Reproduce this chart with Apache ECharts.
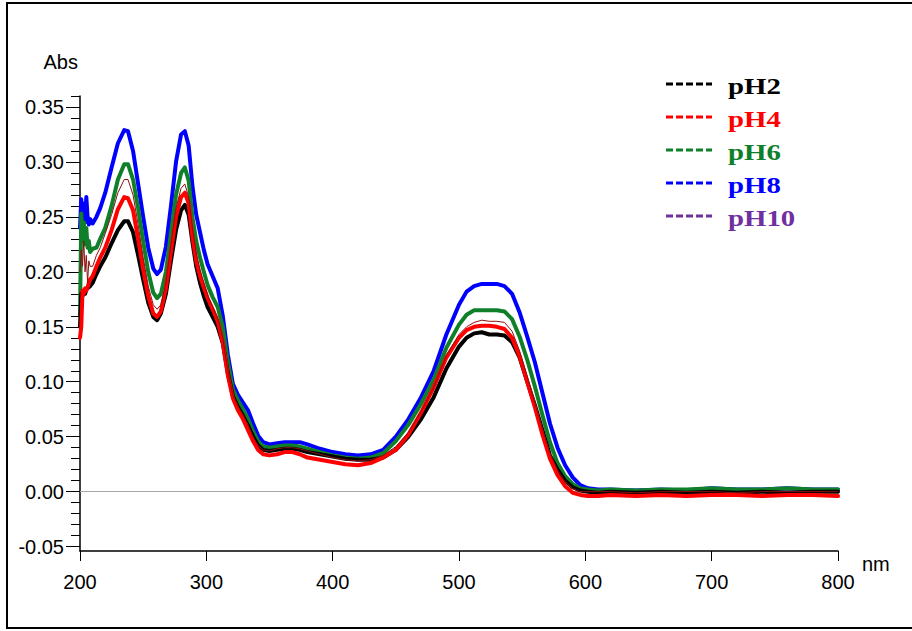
<!DOCTYPE html>
<html>
<head>
<meta charset="utf-8">
<script src="https://cdn.jsdelivr.net/npm/echarts@6.0.0/dist/echarts.min.js"></script>
<style>
html,body{margin:0;padding:0;background:#fff;}
#chart{width:912px;height:631px;}
</style>
</head>
<body>
<div id="chart"></div>
<script>
// Wavelengths (nm)
const wavelengths = [200,201,202,203,204,205,206,207,208,210,213,216,220,225,230,235,238,242,246,250,254,258,261,264,268,272,276,280,283,286,289,292,295,298,301,305,309,313,317,321,325,329,333,337,341,345,350,356,362,368,374,380,390,400,410,420,430,440,450,460,470,480,490,500,506,512,518,524,530,536,542,548,554,560,566,572,578,584,590,596,602,610,620,640,660,680,700,720,740,760,780,800];

const pH2 = [0.150,0.180,0.178,0.182,0.180,0.184,0.185,0.186,0.187,0.190,0.198,0.205,0.213,0.226,0.238,0.246,0.246,0.236,0.215,0.193,0.172,0.159,0.156,0.162,0.180,0.210,0.238,0.256,0.261,0.252,0.227,0.205,0.190,0.178,0.168,0.159,0.150,0.135,0.108,0.087,0.077,0.069,0.060,0.050,0.042,0.038,0.037,0.038,0.039,0.039,0.038,0.036,0.034,0.032,0.030,0.029,0.029,0.031,0.038,0.050,0.066,0.086,0.112,0.132,0.140,0.144,0.145,0.143,0.143,0.142,0.136,0.122,0.100,0.079,0.056,0.033,0.020,0.010,0.004,0.001,0.000,-0.001,0.000,-0.001,0.000,-0.001,0.000,-0.001,0.000,-0.001,0.000,0.000];

const pH4 = [0.140,0.150,0.183,0.180,0.185,0.183,0.186,0.190,0.193,0.196,0.205,0.213,0.222,0.238,0.257,0.268,0.267,0.256,0.230,0.202,0.178,0.162,0.159,0.164,0.185,0.218,0.250,0.268,0.272,0.262,0.232,0.210,0.196,0.186,0.176,0.166,0.155,0.136,0.106,0.085,0.074,0.066,0.056,0.046,0.038,0.034,0.033,0.034,0.036,0.036,0.034,0.031,0.029,0.027,0.025,0.024,0.026,0.031,0.038,0.052,0.072,0.095,0.122,0.140,0.147,0.150,0.151,0.151,0.150,0.148,0.140,0.123,0.100,0.077,0.052,0.030,0.015,0.005,-0.001,-0.003,-0.004,-0.004,-0.003,-0.004,-0.003,-0.004,-0.003,-0.003,-0.004,-0.003,-0.003,-0.004];

const pH6 = [0.160,0.253,0.230,0.245,0.225,0.240,0.222,0.228,0.218,0.221,0.222,0.230,0.240,0.260,0.284,0.298,0.298,0.284,0.258,0.228,0.200,0.181,0.176,0.180,0.200,0.235,0.270,0.290,0.295,0.283,0.250,0.228,0.213,0.200,0.188,0.177,0.168,0.150,0.118,0.093,0.083,0.075,0.066,0.055,0.046,0.041,0.040,0.041,0.042,0.042,0.041,0.039,0.036,0.033,0.031,0.030,0.031,0.035,0.046,0.061,0.080,0.102,0.131,0.152,0.161,0.165,0.165,0.165,0.165,0.164,0.157,0.141,0.120,0.096,0.070,0.045,0.026,0.014,0.007,0.003,0.002,0.001,0.002,0.001,0.002,0.002,0.003,0.002,0.002,0.003,0.002,0.002];

const pH8 = [0.240,0.266,0.250,0.262,0.245,0.268,0.250,0.243,0.248,0.244,0.250,0.258,0.272,0.295,0.317,0.329,0.328,0.310,0.280,0.250,0.222,0.203,0.198,0.202,0.223,0.260,0.300,0.325,0.328,0.315,0.278,0.252,0.236,0.220,0.207,0.196,0.185,0.160,0.125,0.098,0.088,0.081,0.074,0.062,0.051,0.045,0.043,0.044,0.045,0.045,0.045,0.043,0.039,0.036,0.034,0.033,0.034,0.038,0.050,0.066,0.086,0.110,0.143,0.170,0.182,0.187,0.189,0.189,0.189,0.187,0.180,0.163,0.141,0.118,0.090,0.062,0.040,0.024,0.013,0.006,0.003,0.002,0.002,0.001,0.002,0.001,0.003,0.002,0.002,0.003,0.002,0.002];

const pH10 = [0.200,0.220,0.205,0.228,0.200,0.215,0.190,0.210,0.205,0.205,0.215,0.222,0.235,0.252,0.272,0.284,0.284,0.270,0.243,0.213,0.187,0.170,0.166,0.170,0.190,0.225,0.258,0.276,0.280,0.268,0.240,0.217,0.202,0.190,0.179,0.168,0.158,0.140,0.110,0.088,0.078,0.070,0.061,0.050,0.042,0.038,0.037,0.039,0.040,0.040,0.039,0.037,0.034,0.031,0.029,0.028,0.029,0.033,0.041,0.054,0.073,0.095,0.124,0.143,0.150,0.154,0.156,0.155,0.155,0.154,0.146,0.128,0.105,0.081,0.057,0.035,0.020,0.009,0.003,0.000,0.000,0.000,0.000,-0.001,0.000,0.000,0.000,-0.001,0.000,0.000,0.000,0.000];

const seriesNames = ['pH2','pH4','pH6','pH8','pH10'];
const lineColors = {pH2:'#000000', pH4:'#ff0000', pH6:'#0f7f2a', pH8:'#0000ff', pH10:'#8b1010'};
const legendColors = {pH2:'#000000', pH4:'#ff0000', pH6:'#0f7f2a', pH8:'#0000ff', pH10:'#7030a0'};
const seriesValues = {pH2, pH4, pH6, pH8, pH10};

const yMajorTicks = [-0.05,0.00,0.05,0.10,0.15,0.20,0.25,0.30,0.35];
const yMinorTicks = [];
for (let i = -5; i <= 36; i++) { if (i % 5 !== 0) yMinorTicks.push(i / 100); }

const drawOrder = ['pH8','pH6','pH2','pH4','pH10'];

const chart = echarts.init(document.getElementById('chart'), null, {renderer:'svg'});

const series = drawOrder.map((name, idx) => {
  const s = {
    name: name,
    type: 'line',
    data: wavelengths.map((w, i) => [w, seriesValues[name][i]]),
    showSymbol: false,
    symbol: 'none',
    animation: false,
    z: 3 + idx,
    lineStyle: {color: lineColors[name], width: name === 'pH10' ? 1 : 4, join: 'round', cap: 'round'},
    itemStyle: {color: lineColors[name]}
  };
  if (idx === 0) {
    s.markLine = {
      silent: true, symbol: 'none', animation: false,
      label: {show: false},
      lineStyle: {color: '#a8a8a8', width: 1, type: 'solid'},
      data: [{yAxis: 0}],
      z: 1
    };
  }
  return s;
});

const legendGraphics = [];
seriesNames.forEach((name, i) => {
  const cy = 84 + i * 33;
  legendGraphics.push({
    type: 'line', silent: true,
    shape: {x1: 666, y1: cy, x2: 712, y2: cy},
    style: {stroke: legendColors[name], lineWidth: 3, lineDash: [7, 3]}
  });
  legendGraphics.push({
    type: 'text', silent: true,
    x: 728, y: cy + 2, scaleX: 1.2, originX: 0, originY: 0,
    style: {text: name, fill: legendColors[name], font: 'bold 24px "Liberation Serif", "DejaVu Serif", serif', textVerticalAlign: 'middle', textAlign: 'left'}
  });
});

const labelFont = '"Liberation Sans", Arial, sans-serif';

chart.setOption({
  animation: false,
  backgroundColor: '#ffffff',
  grid: {left: 80, right: 74, top: 96, bottom: 80, containLabel: false},
  xAxis: {
    type: 'value', min: 200, max: 800, interval: 100,
    name: 'nm', nameLocation: 'end', nameGap: 24,
    nameTextStyle: {color: '#000', fontSize: 20, fontFamily: labelFont, verticalAlign: 'top', padding: [3, 0, 0, 0]},
    axisLine: {show: true, onZero: false, lineStyle: {color: '#000', width: 1.5}},
    axisTick: {show: true, inside: false, length: 10, lineStyle: {color: '#000', width: 1}},
    axisLabel: {color: '#000', fontSize: 20, fontFamily: labelFont, margin: 21},
    splitLine: {show: false}
  },
  yAxis: [{
    type: 'value', min: -0.054, max: 0.36,
    name: 'Abs', nameLocation: 'end', nameGap: 24,
    nameTextStyle: {color: '#000', fontSize: 20, fontFamily: labelFont, align: 'right', padding: [0, 2, 0, 0]},
    axisLine: {show: true, onZero: false, lineStyle: {color: '#000', width: 1.5}},
    axisTick: {show: true, length: 14, customValues: yMajorTicks, lineStyle: {color: '#000', width: 1}},
    axisLabel: {color: '#000', fontSize: 20, fontFamily: labelFont, margin: 16, customValues: yMajorTicks, formatter: v => v.toFixed(2)},
    splitLine: {show: false}
  }, {
    type: 'value', min: -0.054, max: 0.36, position: 'left',
    axisLine: {show: false},
    axisTick: {show: true, length: 9, customValues: yMinorTicks, lineStyle: {color: '#000', width: 1}},
    axisLabel: {show: false},
    splitLine: {show: false}
  }],
  series: series,
  graphic: [{
    type: 'rect', silent: true, z: 100,
    shape: {x: 7, y: 3, width: 930, height: 625},
    style: {fill: 'none', stroke: '#000', lineWidth: 2}
  }].concat(legendGraphics)
});
</script>
</body>
</html>
